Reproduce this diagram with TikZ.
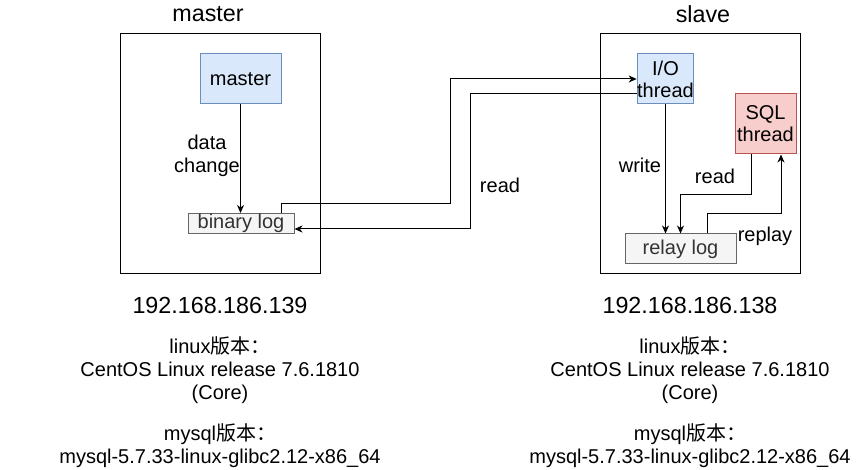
\documentclass[tikz,border=0pt]{standalone}
\usepackage{fontspec}
\setmainfont{Liberation Sans}
\newfontfamily\cjk{Noto Sans CJK SC}
\usetikzlibrary{arrows.meta}
\definecolor{bluefill}{HTML}{DAE8FC}
\definecolor{blueline}{HTML}{6C8EBF}
\definecolor{redfill}{HTML}{F8CECC}
\definecolor{redline}{HTML}{B85450}
\definecolor{grayfill}{HTML}{F5F5F5}
\definecolor{grayline}{HTML}{666666}
\definecolor{graytext}{HTML}{333333}
\tikzset{
  hostbox/.style={draw=black, line width=1pt, minimum width=200pt, minimum height=240pt, inner sep=0pt},
  bluebox/.style={draw=blueline, fill=bluefill, line width=1pt, inner sep=0pt, align=center, font=\fontsize{20}{22}\selectfont},
  redbox/.style={draw=redline, fill=redfill, line width=1pt, inner sep=0pt, align=center, font=\fontsize{20}{22}\selectfont},
  logbox/.style={draw=grayline, fill=grayfill, line width=1pt, inner sep=0pt, text=graytext, font=\fontsize{20}{22}\selectfont},
  lbl/.style={align=center, inner sep=0pt, font=\fontsize{20}{23}\selectfont},
  titletxt/.style={inner sep=0pt, font=\fontsize{23.3}{27}\selectfont},
  arr/.style={line width=1pt, -{Stealth[length=8pt, width=7pt, inset=2.5pt]}},
}
\begin{document}
\begin{tikzpicture}[x=1pt, y=-1pt]
\useasboundingbox (0,0) rectangle (867,470);
% host boxes
\node[hostbox] (mbox) at (220,154) {};
\node[hostbox] (sbox) at (700,154) {};
\node[titletxt] (mtitle) at (208,14) {master};
\node[titletxt] (stitle) at (703,14) {slave};
% master side
\node[bluebox, minimum width=81pt, minimum height=50pt] (master) at (240.5,79) {master};
\node[logbox, minimum width=106pt, minimum height=20pt] (binlog) at (241,223.5) {binary log};
% slave side
\node[bluebox, minimum width=51pt, minimum height=50pt] (io) at (665.5,79) {I/O\\thread};
\node[redbox, minimum width=61pt, minimum height=60pt] (sql) at (765.5,124) {SQL\\thread};
\node[logbox, minimum width=111pt, minimum height=30pt] (relay) at (680.5,249) {relay log};
% connectors
\draw[arr] (master) -- (master|-binlog.north);
\draw[arr] ([xshift=40pt]binlog.north) |- (450,204) |- (io.west);
\draw[arr] ([yshift=-15pt]io.west) -| (470,229) -- ([yshift=-5.5pt]binlog.east);
\draw[arr] (io) -- (io|-relay.north);
\draw[arr] ([xshift=-14.5pt]sql.south) -- ++(0,40) -| (relay.north);
\draw[arr] ([xshift=26.5pt]relay.north) -- ++(0,-20) -| ([xshift=15.5pt]sql.south);
% labels
\node[lbl] (ldata) at (207,155.5) {data\\change};
\node[lbl] (lread1) at (500,185) {read};
\node[lbl] (lwrite) at (640,165) {write};
\node[lbl] (lread2) at (715,176) {read};
\node[lbl] (lreplay) at (765,236) {replay};
% info texts
\node[titletxt] (mip) at (220,305) {192.168.186.139};
\node[titletxt] (sip) at (690,305) {192.168.186.138};
\node[lbl] (mlinux) at (220,370) {linux{\cjk 版本：}\\CentOS Linux release 7.6.1810\\(Core)};
\node[lbl] (slinux) at (690,370) {linux{\cjk 版本：}\\CentOS Linux release 7.6.1810\\(Core)};
\node[lbl] (mmysql) at (220,445.5) {mysql{\cjk 版本：}\\mysql-5.7.33-linux-glibc2.12-x86\_64};
\node[lbl] (smysql) at (690,445.5) {mysql{\cjk 版本：}\\mysql-5.7.33-linux-glibc2.12-x86\_64};
\end{tikzpicture}
\end{document}
